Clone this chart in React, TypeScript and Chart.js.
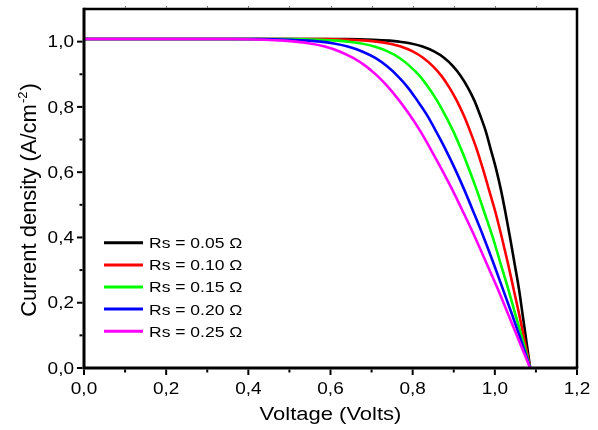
import { useEffect, useRef } from "react";
import { Chart, registerables } from "chart.js";

Chart.register(...registerables);

// ---- data ----
const seriesLabels = ["Rs = 0.05 Ω", "Rs = 0.10 Ω", "Rs = 0.15 Ω", "Rs = 0.20 Ω", "Rs = 0.25 Ω"];
const seriesColors = ["#000000", "#ff0000", "#00ff00", "#0000ff", "#ff00ff"];

// current density levels (A/cm^-2) shared by all curves
const currentJ = [1.008, 1.008, 1.006, 1.003, 1.000, 0.995, 0.985, 0.970, 0.950, 0.925, 0.895, 0.860, 0.820,
  0.775, 0.725, 0.670, 0.610, 0.545, 0.475, 0.400, 0.320, 0.240, 0.160, 0.080, 0];

// voltage (V) of each curve at those current levels
const rs005V = [0, 0.641, 0.704, 0.744, 0.767, 0.793, 0.824, 0.852, 0.877, 0.898, 0.917, 0.934, 0.950,
  0.964, 0.978, 0.990, 1.003, 1.015, 1.026, 1.037, 1.048, 1.059, 1.068, 1.077, 1.086];
const rs010V = [0, 0.584, 0.648, 0.688, 0.712, 0.738, 0.771, 0.800, 0.826, 0.849, 0.870, 0.889, 0.907,
  0.924, 0.940, 0.956, 0.971, 0.986, 1.002, 1.017, 1.032, 1.046, 1.060, 1.073, 1.086];
const rs015V = [0, 0.506, 0.574, 0.618, 0.643, 0.672, 0.707, 0.739, 0.768, 0.793, 0.817, 0.838, 0.859,
  0.879, 0.899, 0.918, 0.937, 0.956, 0.975, 0.995, 1.014, 1.033, 1.051, 1.069, 1.086];
const rs020V = [0, 0.428, 0.501, 0.547, 0.575, 0.605, 0.642, 0.677, 0.709, 0.737, 0.763, 0.788, 0.811,
  0.835, 0.857, 0.880, 0.903, 0.926, 0.949, 0.973, 0.997, 1.020, 1.043, 1.065, 1.086];
const rs025V = [0, 0.364, 0.439, 0.487, 0.515, 0.547, 0.586, 0.622, 0.655, 0.686, 0.714, 0.741, 0.767,
  0.793, 0.819, 0.844, 0.870, 0.897, 0.924, 0.952, 0.980, 1.008, 1.034, 1.060, 1.086];

const seriesV = [rs005V, rs010V, rs015V, rs020V, rs025V];

const xTickLabels = ["0,0", "0,2", "0,4", "0,6", "0,8", "1,0", "1,2"];
const yTickLabels = ["0,0", "0,2", "0,4", "0,6", "0,8", "1,0"];
const xTitle = "Voltage (Volts)";
const yTitleMain = "Current density (A/cm";
const yTitleSup = "-2";
const yTitleEnd = ")";

const FONT = '"Liberation Sans", Arial, Helvetica, sans-serif';

function labelFor(labels: string[], value: number): string | null {
  for (const l of labels) {
    if (Math.abs(parseFloat(l.replace(",", ".")) - value) < 1e-6) return l;
  }
  return null;
}

function drawText(ctx: CanvasRenderingContext2D, text: string, x: number, y: number, sy: number, align: CanvasTextAlign) {
  ctx.save();
  ctx.translate(x, y);
  ctx.scale(1, sy);
  ctx.textAlign = align;
  ctx.textBaseline = "alphabetic";
  ctx.fillText(text, 0, 0);
  ctx.restore();
}

const framePlugin = {
  id: "originFrame",
  afterDraw(chart: any) {
    const ctx: CanvasRenderingContext2D = chart.ctx;
    const ca = chart.chartArea;
    const xs = chart.scales.x;
    const ys = chart.scales.y;
    ctx.save();
    ctx.strokeStyle = "#000";
    ctx.fillStyle = "#000";
    ctx.lineCap = "butt";

    // top & right frame
    ctx.lineWidth = 2.5;
    ctx.beginPath();
    ctx.moveTo(ca.left, ca.top);
    ctx.lineTo(ca.right, ca.top);
    ctx.lineTo(ca.right, ca.bottom);
    ctx.stroke();

    // faint ticks on the top edge
    ctx.strokeStyle = "#777";
    ctx.lineWidth = 1;
    for (const t of xs.ticks) {
      if (t.value <= 0 || t.value >= 1.2 - 1e-6) continue;
      const px = Math.round(xs.getPixelForValue(t.value)) + 0.5;
      ctx.beginPath();
      ctx.moveTo(px, ca.top - 1);
      ctx.lineTo(px, ca.top - 3);
      ctx.stroke();
    }
    ctx.strokeStyle = "#000";

    // left & bottom axes
    ctx.lineWidth = 3;
    ctx.beginPath();
    ctx.moveTo(ca.left, ca.top - 1.2);
    ctx.lineTo(ca.left, ca.bottom + 1.5);
    ctx.moveTo(ca.left - 1.5, ca.bottom);
    ctx.lineTo(ca.right + 1.2, ca.bottom);
    ctx.stroke();

    // x ticks and labels
    ctx.lineWidth = 2;
    ctx.font = "19px " + FONT;
    for (const t of xs.ticks) {
      const px = xs.getPixelForValue(t.value);
      const lab = labelFor(xTickLabels, t.value);
      ctx.beginPath();
      ctx.moveTo(px, ca.bottom + 1.5);
      ctx.lineTo(px, ca.bottom + (lab ? 7 : 4.5));
      ctx.stroke();
      if (lab) drawText(ctx, lab, px, ca.bottom + 25.5, 0.82, "center");
    }

    // y ticks and labels
    for (const t of ys.ticks) {
      if (t.value > 1.05) continue;
      const py = ys.getPixelForValue(t.value);
      const lab = labelFor(yTickLabels, t.value);
      ctx.beginPath();
      ctx.moveTo(ca.left - 1.5, py);
      ctx.lineTo(ca.left - (lab ? 7 : 4.5), py);
      ctx.stroke();
      if (lab) drawText(ctx, lab, ca.left - 10, py + 5.6, 0.82, "right");
    }

    // x title
    ctx.font = "22px " + FONT;
    drawText(ctx, xTitle, (ca.left + ca.right) / 2, 420, 0.84, "center");

    // y title (rotated, with superscript)
    ctx.save();
    ctx.translate(35.5, 200);
    ctx.rotate(-Math.PI / 2);
    ctx.textAlign = "left";
    ctx.textBaseline = "alphabetic";
    ctx.font = "22px " + FONT;
    const w1 = ctx.measureText(yTitleMain).width;
    const w3 = ctx.measureText(yTitleEnd).width;
    ctx.font = "13px " + FONT;
    const w2 = ctx.measureText(yTitleSup).width;
    const total = w1 + w2 + w3 + 2;
    let sx = -total / 2;
    ctx.font = "22px " + FONT;
    ctx.fillText(yTitleMain, sx, 0);
    sx += w1 + 1;
    ctx.font = "13px " + FONT;
    ctx.fillText(yTitleSup, sx, -9);
    sx += w2 + 1;
    ctx.font = "22px " + FONT;
    ctx.fillText(yTitleEnd, sx, 0);
    ctx.restore();

    // legend
    const lx = ca.left + 20;
    const ly = ca.top + 233.8;
    ctx.font = "17.5px " + FONT;
    for (let i = 0; i < seriesLabels.length; i++) {
      const yy = ly + i * 22.1;
      ctx.strokeStyle = seriesColors[i];
      ctx.lineWidth = 3;
      ctx.beginPath();
      ctx.moveTo(lx, yy);
      ctx.lineTo(lx + 39, yy);
      ctx.stroke();
      ctx.fillStyle = "#000";
      drawText(ctx, seriesLabels[i], lx + 45, yy + 5.4, 0.86, "left");
    }
    ctx.restore();
  },
};

export default function App() {
  const ref = useRef<HTMLCanvasElement | null>(null);

  useEffect(() => {
    if (!ref.current) return;
    const datasets = seriesLabels.map((label, i) => ({
      label,
      data: seriesV[i].map((v, k) => ({ x: v, y: currentJ[k] })),
      borderColor: seriesColors[i],
      backgroundColor: seriesColors[i],
      borderWidth: 2.6,
      pointRadius: 0,
      fill: false,
      cubicInterpolationMode: "monotone" as const,
      order: seriesLabels.length - 1 - i,
    }));
    const chart = new Chart(ref.current, {
      type: "line",
      data: { datasets },
      options: {
        animation: false,
        responsive: false,
        maintainAspectRatio: false,
        parsing: false,
        layout: { padding: { left: 0, top: 9, right: 21, bottom: 0 } },
        plugins: { legend: { display: false }, tooltip: { enabled: false } },
        scales: {
          x: {
            type: "linear",
            min: 0,
            max: 1.2,
            ticks: { stepSize: 0.1, display: false },
            grid: { display: false },
            border: { display: false },
            afterFit: (s: any) => {
              s.height = 62;
            },
          },
          y: {
            type: "linear",
            min: 0,
            max: 1.1,
            ticks: { stepSize: 0.1, display: false },
            grid: { display: false },
            border: { display: false },
            afterFit: (s: any) => {
              s.width = 84;
            },
          },
        },
      },
      plugins: [framePlugin],
    } as any);
    return () => chart.destroy();
  }, []);

  return (
    <div style={{ position: "fixed", left: 0, top: 0, width: 598, height: 430, background: "#fff" }}>
      <canvas ref={ref} width={598} height={430} style={{ display: "block" }} />
    </div>
  );
}
